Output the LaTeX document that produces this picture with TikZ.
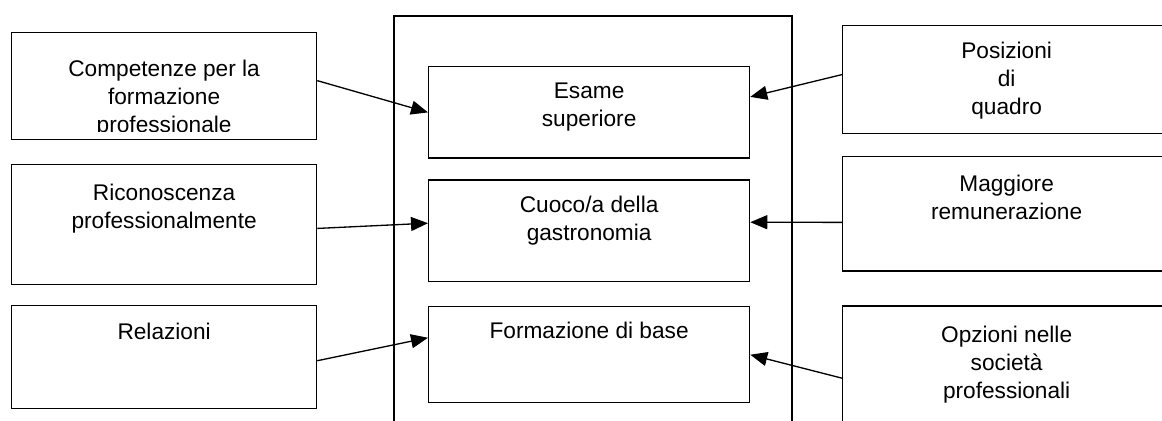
\documentclass[tikz,border=0pt]{standalone}
\usepackage{fontspec}
\setmainfont{Liberation Sans}
\usetikzlibrary{arrows.meta,positioning}

\begin{document}
\begin{tikzpicture}[x=0.02cm,y=-0.02cm,
    casella/.style={draw,line width=0.75pt,inner sep=0pt,minimum width=6.1cm},
    interna/.style={casella,minimum width=6.42cm},
    esterna/.style={casella,minimum width=6.56cm},
    testo/.style={inner sep=0pt,align=center,font=\fontsize{12.9}{16}\selectfont},
    freccia/.style={-{Triangle[length=3.4mm,width=2.8mm]},line width=0.75pt}]
  \useasboundingbox (0,0) rectangle (1162,421);
  % cornice centrale, aperta in basso
  \draw[line width=0.75pt] (394,430) |- (792,16) -- (792,430);

  % colonna sinistra
  \node[casella,minimum height=2.14cm,anchor=north west] (comp) at (11,32) {};
  \node[casella,minimum height=2.4cm,below=0.47cm of comp] (ric) {};
  \node[casella,minimum height=2.06cm,below=0.4cm of ric] (rel) {};
  \begin{scope}
    \clip (comp.north west) rectangle ([yshift=0.18cm]comp.south east);
    \node[testo,below=0.56cm of comp.north] (tcomp) {Competenze per la\\formazione\\professionale};
  \end{scope}
  \node[testo,below=0.4cm of ric.north] (tric) {Riconoscenza\\professionalmente};
  \node[testo,below=0.36cm of rel.north] (trel) {Relazioni};

  % colonna centrale
  \node[interna,minimum height=1.83cm,anchor=north west] (esame) at (428,66) {};
  \node[interna,minimum height=2.03cm,below=0.41cm of esame] (cuoco) {};
  \node[interna,minimum height=1.92cm,below=0.48cm of cuoco] (base) {};
  \node[testo,below=0.33cm of esame.north] (tesame) {Esame\\superiore};
  \node[testo,below=0.32cm of cuoco.north] (tcuoco) {Cuoco/a della\\gastronomia};
  \node[testo,below=0.32cm of base.north] (tbase) {Formazione di base};

  % colonna destra
  \node[esterna,minimum height=2.17cm,anchor=north west] (pos) at (842,24.7) {};
  \node[esterna,minimum height=2.29cm,below=0.43cm of pos] (magg) {};
  \node[esterna,minimum height=2.33cm,below=0.67cm of magg] (opz) {};
  \node[testo,below=0.34cm of pos.north] (tpos) {Posizioni\\di\\quadro};
  \node[testo,below=0.37cm of magg.north] (tmagg) {Maggiore\\remunerazione};
  \node[testo,below=0.4cm of opz.north] (topz) {Opzioni nelle\\società\\professionali};

  \draw[freccia] ([yshift=0.11cm]comp.east) -- (esame.west);
  \draw[freccia] ([yshift=-0.08cm]ric.east) -- ([yshift=0.15cm]cuoco.west);
  \draw[freccia] ([yshift=-0.07cm]rel.east) -- ([yshift=0.34cm]base.west);
  \draw[freccia] ([yshift=0.1cm]pos.west) -- ([yshift=0.31cm]esame.east);
  \draw[freccia] ([yshift=-0.17cm]magg.west) -- ([yshift=0.17cm]cuoco.east);
  \draw[freccia] ([yshift=-0.28cm]opz.west) -- (base.east);
\end{tikzpicture}
\end{document}
